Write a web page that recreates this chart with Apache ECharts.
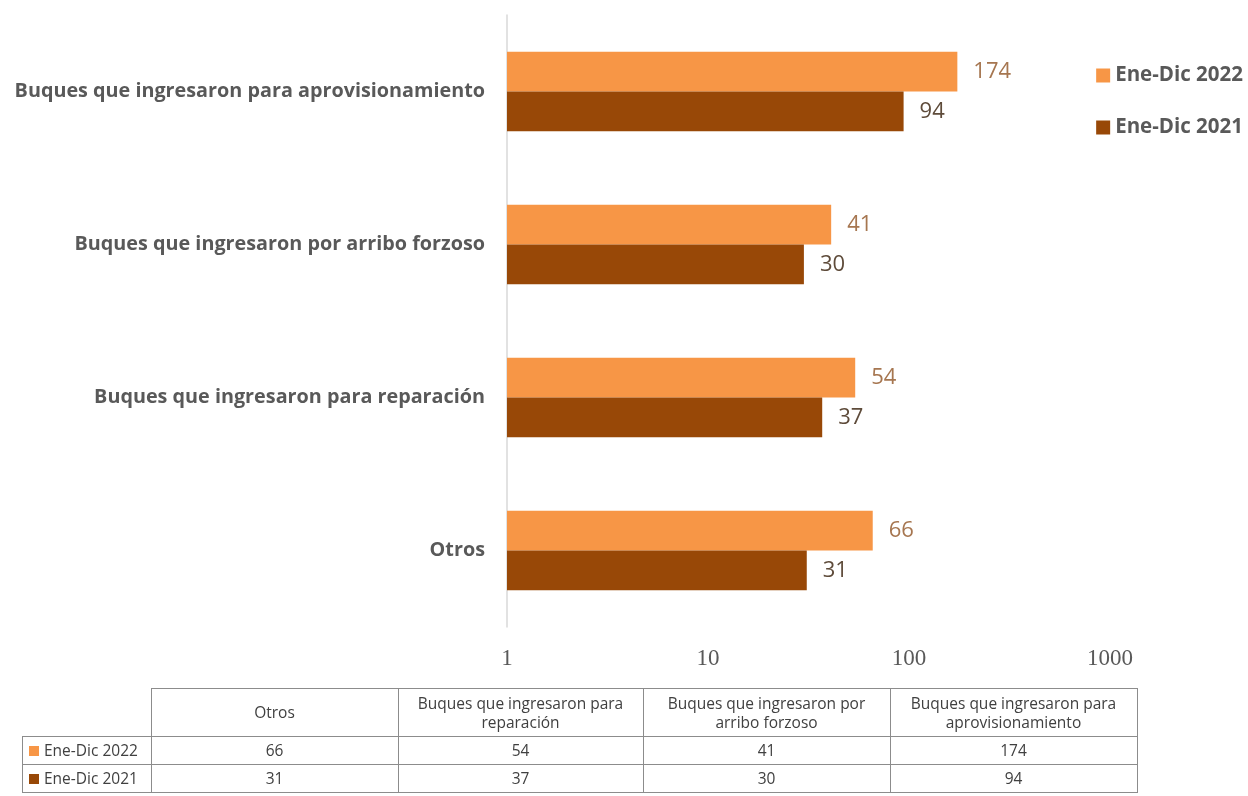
<!DOCTYPE html>
<html>
<head>
<meta charset="utf-8">
<script src="https://cdn.jsdelivr.net/npm/echarts@6/dist/echarts.min.js"></script>
<style>
html,body{margin:0;padding:0;background:#fff;}
#chart{position:absolute;left:0;top:0;width:1248px;height:796px;}
#tbl{position:absolute;left:22px;top:688px;border-collapse:collapse;font-family:"Open Sans",sans-serif;font-size:15.5px;color:#404040;}
#tbl td{border:1.5px solid #8c8c8c;text-align:center;padding:0;line-height:19px;}
#tbl td.blank{border:none;}
.sw{display:inline-block;width:10px;height:10px;margin-right:5px;vertical-align:0px;}
</style>
</head>
<body>
<div id="chart"></div>
<table id="tbl"></table>
<script>
const categories = ["Otros", "Buques que ingresaron para reparación", "Buques que ingresaron por arribo forzoso", "Buques que ingresaron para aprovisionamiento"];
const tableHeaders = ["Otros", "Buques que ingresaron para<br>reparación", "Buques que ingresaron por<br>arribo forzoso", "Buques que ingresaron para<br>aprovisionamiento"];
const seriesNames = ["Ene-Dic 2022", "Ene-Dic 2021"];
const values2022 = [66, 54, 41, 174];
const values2021 = [31, 37, 30, 94];
const xTicks = [1, 10, 100, 1000];
const colors = ["#F79646", "#984807"];
const labelColors = ["#A67650", "#5E4B3A"];

const chart = echarts.init(document.getElementById('chart'));
chart.setOption({
  animation: false,
  grid: {left: 507, right: 138, top: 15, bottom: 169, containLabel: false},
  legend: {
    orient: 'vertical', right: 0, top: 60, itemGap: 31,
    itemWidth: 14, itemHeight: 14, icon: 'rect',
    textStyle: {fontFamily: 'Open Sans', fontWeight: 'bold', fontSize: 20.5, color: '#595959'},
    data: seriesNames
  },
  xAxis: {
    type: 'log', logBase: 10, min: xTicks[0], max: xTicks[xTicks.length - 1],
    axisLine: {show: false}, axisTick: {show: false}, splitLine: {show: false},
    axisLabel: {fontFamily: 'Liberation Serif', fontSize: 23, color: '#595959', margin: 20,
      formatter: v => String(Math.round(v))}
  },
  yAxis: {
    type: 'category', data: categories,
    axisLine: {show: true, lineStyle: {color: '#D9D9D9', width: 1.5}},
    axisTick: {show: false},
    axisLabel: {fontFamily: 'Open Sans', fontWeight: 'bold', fontSize: 19.8, color: '#595959', margin: 22}
  },
  series: [
    {name: seriesNames[0], type: 'bar', data: values2022, barGap: '0%', barCategoryGap: '48%',
     itemStyle: {color: colors[0]},
     label: {show: true, position: 'right', distance: 16, fontFamily: 'Open Sans', fontSize: 22, color: labelColors[0]}},
    {name: seriesNames[1], type: 'bar', data: values2021, barGap: '0%', barCategoryGap: '48%',
     itemStyle: {color: colors[1]},
     label: {show: true, position: 'right', distance: 16, fontFamily: 'Open Sans', fontSize: 22, color: labelColors[1]}}
  ]
});

// data table built from arrays
const tbl = document.getElementById('tbl');
const colW = [128, 246, 244, 246, 246];
let html = '<tr style="height:48px"><td class="blank" style="width:' + colW[0] + 'px"></td>';
tableHeaders.forEach((h, i) => { html += '<td style="width:' + colW[i + 1] + 'px">' + h + '</td>'; });
html += '</tr>';
[values2022, values2021].forEach((vals, r) => {
  html += '<tr style="height:28px"><td style="text-align:left;padding-left:6px;white-space:nowrap"><span class="sw" style="background:' + colors[r] + '"></span>' + seriesNames[r] + '</td>';
  vals.forEach(v => { html += '<td>' + v + '</td>'; });
  html += '</tr>';
});
tbl.innerHTML = html;
</script>
</body>
</html>
